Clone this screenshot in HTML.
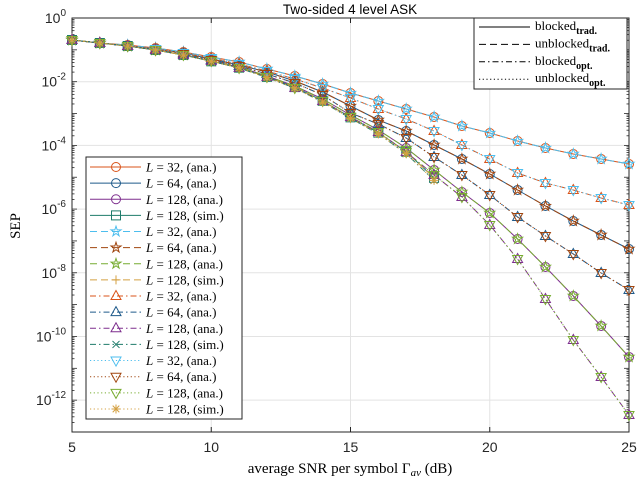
<!DOCTYPE html>
<html><head><meta charset="utf-8"><style>
body{margin:0;background:#fff}
svg{display:block}
</style></head><body>
<svg id="chart" width="640" height="480" xmlns="http://www.w3.org/2000/svg" font-family="Liberation Serif, serif">
<rect width="640" height="480" fill="#fff"/>
<g id="grid"></g>
<g id="axes"></g>
<g id="series"></g>
<text x="350" y="14" text-anchor="middle" font-family="Liberation Sans, sans-serif" font-size="13.5">Two-sided 4 level ASK</text>
<text x="350" y="473" text-anchor="middle" font-size="15">average SNR per symbol Γ<tspan font-style="italic" font-size="11" dy="3">av</tspan><tspan dy="-3"> (dB)</tspan></text>
<text transform="translate(20,226) rotate(-90)" text-anchor="middle" font-size="15">SEP</text>
<g id="legend1"></g>
<g id="legend2"></g>
</svg>
<script>
const snr = [5,6,7,8,9,10,11,12,13,14,15,16,17,18,19,20,21,22,23,24,25];
// log10(SEP) values
const logA = [-0.691,-0.785,-0.848,-0.942,-1.068,-1.224,-1.381,-1.601,-1.821,-2.072,-2.355,-2.606,-2.857,-3.108,-3.391,-3.611,-3.862,-4.082,-4.270,-4.427,-4.584];
const logB = [-0.691,-0.785,-0.879,-0.973,-1.099,-1.256,-1.444,-1.664,-1.915,-2.198,-2.512,-2.857,-3.171,-3.548,-3.987,-4.427,-4.867,-5.181,-5.400,-5.651,-5.871];
const logC = [-0.691,-0.785,-0.879,-0.973,-1.099,-1.287,-1.476,-1.695,-1.978,-2.323,-2.763,-3.202,-3.548,-3.987,-4.427,-4.898,-5.400,-5.903,-6.374,-6.813,-7.253];
const logD = [-0.691,-0.785,-0.879,-1.005,-1.130,-1.319,-1.507,-1.758,-2.041,-2.418,-2.983,-3.328,-3.768,-4.364,-4.929,-5.557,-6.248,-6.845,-7.410,-8.006,-8.540];
const logE = [-0.691,-0.785,-0.879,-1.005,-1.162,-1.350,-1.538,-1.821,-2.135,-2.543,-3.046,-3.517,-4.082,-4.772,-5.463,-6.122,-6.939,-7.818,-8.728,-9.670,-10.644];
const logF = [-0.691,-0.785,-0.879,-1.005,-1.162,-1.350,-1.570,-1.852,-2.198,-2.606,-3.108,-3.579,-4.207,-4.929,-5.620,-6.499,-7.567,-8.823,-10.110,-11.272,-12.465];
const snrSim = [5,6,7,8,9,10,11,12,13,14,15,16,17,18];
const logSimE = [-0.691,-0.785,-0.879,-1.005,-1.162,-1.360,-1.560,-1.850,-2.170,-2.600,-3.120,-3.600,-4.200,-5.020];
const logSimF = [-0.691,-0.785,-0.879,-1.005,-1.162,-1.360,-1.570,-1.870,-2.200,-2.640,-3.150,-3.640,-4.260,-5.100];
const xTicks = [5,10,15,20,25];
const yTickExp = [0,-2,-4,-6,-8,-10,-12];

const NS='http://www.w3.org/2000/svg';
const X0=72,X1=629,Y0=18,Y1=432,XMIN=5,XMAX=25,LMAX=0,LMIN=-13;
const xs=v=>X0+(v-XMIN)/(XMAX-XMIN)*(X1-X0);
const ys=l=>Y0+(LMAX-l)/(LMAX-LMIN)*(Y1-Y0);
function mk(tag,attrs,parent){const e=document.createElementNS(NS,tag);for(const k in attrs)e.setAttribute(k,attrs[k]);parent.appendChild(e);return e;}
const grid=document.getElementById('grid'),axes=document.getElementById('axes'),ser=document.getElementById('series');
xTicks.forEach(t=>{const l=mk('line',{x1:xs(t),x2:xs(t),y1:Y0,y2:Y1,stroke:'#e3e3e3','stroke-width':1},grid);
});
yTickExp.forEach(t=>{const l=mk('line',{x1:X0,x2:X1,y1:ys(t),y2:ys(t),stroke:'#e3e3e3','stroke-width':1},grid);
});
// axes box
const box=mk('rect',{x:X0,y:Y0,width:X1-X0,height:Y1-Y0,fill:'none',stroke:'#262626','stroke-width':1},axes);

xTicks.forEach(t=>{mk('line',{x1:xs(t),x2:xs(t),y1:Y1,y2:Y1-5,stroke:'#262626'},axes);mk('line',{x1:xs(t),x2:xs(t),y1:Y0,y2:Y0+5,stroke:'#262626'},axes);
const tx=mk('text',{x:xs(t),y:Y1+20,'text-anchor':'middle','font-size':14,'font-family':'Liberation Sans, sans-serif',fill:'#262626'},axes);tx.textContent=t;
});
for(let d=LMIN;d<=LMAX;d++){for(let m=1;m<10;m++){const l=d+Math.log10(m);if(l>LMAX)break;const len=(m==1)?5:2.5;
mk('line',{x1:X0,x2:X0+len,y1:ys(l),y2:ys(l),stroke:'#262626','stroke-width':0.8},axes);
mk('line',{x1:X1,x2:X1-len,y1:ys(l),y2:ys(l),stroke:'#262626','stroke-width':0.8},axes);}}
yTickExp.forEach(t=>{const tx=mk('text',{x:X0-6,y:ys(t)+5,'text-anchor':'end','font-size':14,'font-family':'Liberation Sans, sans-serif',fill:'#262626'},axes);
tx.innerHTML='10<tspan font-size="10" dy="-7">'+t+'</tspan>';
});

const RED='#D95319',DBLUE='#1F5A8A',PURP='#7E2F8E',TEAL='#1E7B6A',LBLUE='#4DBEEE',BROWN='#A0450F',GREEN='#77AC30',GOLD='#D4A041';
const DASH={solid:'',dashed:'7 4',dashdot:'6 3 1.5 3',dotted:'1.2 2.5'};
function marker(g,type,x,y,c){const r=4.5,a={fill:'none',stroke:c,'stroke-width':1};
if(type=='o')mk('circle',Object.assign({cx:x,cy:y,r:r},a),g);
else if(type=='s')mk('rect',Object.assign({x:x-r,y:y-r,width:2*r,height:2*r},a),g);
else if(type=='^')mk('polygon',Object.assign({points:`${x},${y-r-1} ${x-r-0.5},${y+r-1} ${x+r+0.5},${y+r-1}`},a),g);
else if(type=='v')mk('polygon',Object.assign({points:`${x},${y+r+1} ${x-r-0.5},${y-r+1} ${x+r+0.5},${y-r+1}`},a),g);
else if(type=='p'){let p=[];for(let i=0;i<10;i++){const rr=i%2?r*0.45:r+0.8,an=-Math.PI/2+i*Math.PI/5;p.push((x+rr*Math.cos(an)).toFixed(1)+','+(y+rr*Math.sin(an)).toFixed(1));}mk('polygon',Object.assign({points:p.join(' ')},a),g);}
else if(type=='+'){mk('path',Object.assign({d:`M${x-r},${y}H${x+r}M${x},${y-r}V${y+r}`},a),g);}
else if(type=='x'){mk('path',Object.assign({d:`M${x-3.5},${y-3.5}L${x+3.5},${y+3.5}M${x-3.5},${y+3.5}L${x+3.5},${y-3.5}`},a),g);}
else if(type=='*'){mk('path',Object.assign({d:`M${x-r},${y}H${x+r}M${x},${y-r}V${y+r}M${x-3.3},${y-3.3}L${x+3.3},${y+3.3}M${x-3.3},${y+3.3}L${x+3.3},${y-3.3}`},a),g);}}
const seriesDefs=[
 {L:32,t:'ana.',c:RED,d:'solid',m:'o',x:snr,v:logA},
 {L:64,t:'ana.',c:DBLUE,d:'solid',m:'o',x:snr,v:logC},
 {L:128,t:'ana.',c:PURP,d:'solid',m:'o',x:snr,v:logE},
 {L:128,t:'sim.',c:TEAL,d:'solid',m:'s',x:snrSim,v:logSimE},
 {L:32,t:'ana.',c:LBLUE,d:'dashed',m:'p',x:snr,v:logA},
 {L:64,t:'ana.',c:BROWN,d:'dashed',m:'p',x:snr,v:logC},
 {L:128,t:'ana.',c:GREEN,d:'dashed',m:'p',x:snr,v:logE},
 {L:128,t:'sim.',c:GOLD,d:'dashed',m:'+',x:snrSim,v:logSimE},
 {L:32,t:'ana.',c:RED,d:'dashdot',m:'^',x:snr,v:logB},
 {L:64,t:'ana.',c:DBLUE,d:'dashdot',m:'^',x:snr,v:logD},
 {L:128,t:'ana.',c:PURP,d:'dashdot',m:'^',x:snr,v:logF},
 {L:128,t:'sim.',c:TEAL,d:'dashdot',m:'x',x:snrSim,v:logSimF},
 {L:32,t:'ana.',c:LBLUE,d:'dotted',m:'v',x:snr,v:logB},
 {L:64,t:'ana.',c:BROWN,d:'dotted',m:'v',x:snr,v:logD},
 {L:128,t:'ana.',c:GREEN,d:'dotted',m:'v',x:snr,v:logF},
 {L:128,t:'sim.',c:GOLD,d:'dotted',m:'*',x:snrSim,v:logSimF}];
seriesDefs.forEach((s,i)=>{const g=mk('g',{},ser);


const pts=s.v.map((v,j)=>xs(s.x[j]).toFixed(1)+','+ys(v).toFixed(1)).join(' ');
mk('polyline',{points:pts,fill:'none',stroke:s.c,'stroke-width':1,'stroke-dasharray':DASH[s.d]},g);
s.v.forEach((v,j)=>marker(g,s.m,xs(s.x[j]),ys(v),s.c));});

// legend 1
const lg=document.getElementById('legend1');
const lb=mk('rect',{x:86,y:157,width:156,height:262,fill:'#fff',stroke:'#262626','stroke-width':1},lg);

seriesDefs.forEach((s,i)=>{const y=167+i*16.13;const g=mk('g',{},lg);

mk('line',{x1:90,x2:141,y1:y,y2:y,stroke:s.c,'stroke-width':1,'stroke-dasharray':DASH[s.d]},g);
marker(g,s.m,116,y,s.c);
const t=mk('text',{x:146,y:y+4.5,'font-size':13,fill:'#000'},g);
t.innerHTML='<tspan font-style="italic">L</tspan> = '+s.L+', ('+s.t+')';});
// legend 2
const lg2=document.getElementById('legend2');
const lb2=mk('rect',{x:474,y:18,width:153,height:71,fill:'#fff',stroke:'#262626','stroke-width':1},lg2);

const styles=[['solid','blocked','trad.'],['dashed','unblocked','trad.'],['dashdot','blocked','opt.'],['dotted','unblocked','opt.']];
styles.forEach((s,i)=>{const y=27+i*17.4;const g=mk('g',{},lg2);

mk('line',{x1:479,x2:530,y1:y,y2:y,stroke:'#000','stroke-width':1,'stroke-dasharray':DASH[s[0]]},g);
const t=mk('text',{x:535,y:y+3,'font-size':13,fill:'#000'},g);
t.innerHTML=s[1]+'<tspan font-size="10" font-weight="bold" dy="4">'+s[2]+'</tspan>';});
</script>
</body></html>
